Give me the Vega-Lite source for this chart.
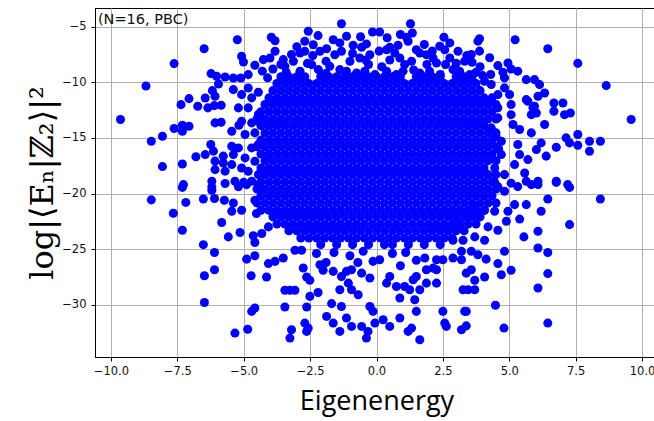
{
"$schema":"https://vega.github.io/schema/vega-lite/v6.json",
"width":563,"height":349,
"autosize":{"type":"none"},
"padding":{"left":95,"top":8,"right":-4,"bottom":64},
"background":"white",
"config":{"view":{"stroke":"black","strokeWidth":1},
"axis":{"grid":true,"gridColor":"#b0b0b0","gridWidth":1,"domainColor":"black","domainWidth":1,"tickColor":"black","tickSize":4,"labelFont":"DejaVu Sans","labelFontSize":11.5,"labelColor":"#111"}},
"layer":[
{"data":{"values":[
{"e":-3.6,"v":-9.5},{"e":-3.3,"v":-9.5},{"e":-3,"v":-9.5},{"e":-2.7,"v":-9.5},{"e":-2.1,"v":-9.5},{"e":-1.8,"v":-9.5},{"e":-1.5,"v":-9.5},{"e":-1.2,"v":-9.5},{"e":-0.9,"v":-9.5},{"e":-0.6,"v":-9.5},{"e":-0.3,"v":-9.5},{"e":0,"v":-9.5},{"e":0.3,"v":-9.5},{"e":0.6,"v":-9.5},{"e":0.9,"v":-9.5},{"e":1.5,"v":-9.5},{"e":1.8,"v":-9.5},{"e":2.1,"v":-9.5},{"e":2.4,"v":-9.5},{"e":3,"v":-9.5},{"e":3.3,"v":-9.5},{"e":3.6,"v":-9.5},
{"e":-3.75,"v":-10.1},{"e":-3.45,"v":-10.1},{"e":-3.15,"v":-10.1},{"e":-2.85,"v":-10.1},{"e":-2.55,"v":-10.1},{"e":-2.25,"v":-10.1},{"e":-1.95,"v":-10.1},{"e":-1.65,"v":-10.1},{"e":-1.35,"v":-10.1},{"e":-1.05,"v":-10.1},{"e":-0.75,"v":-10.1},{"e":-0.45,"v":-10.1},{"e":-0.15,"v":-10.1},{"e":0.15,"v":-10.1},{"e":0.45,"v":-10.1},{"e":0.75,"v":-10.1},{"e":1.05,"v":-10.1},{"e":1.35,"v":-10.1},{"e":1.65,"v":-10.1},{"e":1.95,"v":-10.1},{"e":2.25,"v":-10.1},{"e":2.55,"v":-10.1},{"e":2.85,"v":-10.1},{"e":3.15,"v":-10.1},{"e":3.45,"v":-10.1},{"e":3.75,"v":-10.1},
{"e":-3.9,"v":-10.75},{"e":-3.6,"v":-10.75},{"e":-3.3,"v":-10.75},{"e":-3,"v":-10.75},{"e":-2.7,"v":-10.75},{"e":-2.4,"v":-10.75},{"e":-2.1,"v":-10.75},{"e":-1.8,"v":-10.75},{"e":-1.5,"v":-10.75},{"e":-1.2,"v":-10.75},{"e":-0.9,"v":-10.75},{"e":-0.6,"v":-10.75},{"e":-0.3,"v":-10.75},{"e":0,"v":-10.75},{"e":0.3,"v":-10.75},{"e":0.6,"v":-10.75},{"e":0.9,"v":-10.75},{"e":1.2,"v":-10.75},{"e":1.5,"v":-10.75},{"e":1.8,"v":-10.75},{"e":2.1,"v":-10.75},{"e":2.4,"v":-10.75},{"e":2.7,"v":-10.75},{"e":3,"v":-10.75},{"e":3.3,"v":-10.75},{"e":3.6,"v":-10.75},{"e":3.9,"v":-10.75},
{"e":-4.05,"v":-11.4},{"e":-3.75,"v":-11.4},{"e":-3.45,"v":-11.4},{"e":-3.15,"v":-11.4},{"e":-2.85,"v":-11.4},{"e":-2.55,"v":-11.4},{"e":-2.25,"v":-11.4},{"e":-1.95,"v":-11.4},{"e":-1.65,"v":-11.4},{"e":-1.35,"v":-11.4},{"e":-1.05,"v":-11.4},{"e":-0.75,"v":-11.4},{"e":-0.45,"v":-11.4},{"e":-0.15,"v":-11.4},{"e":0.15,"v":-11.4},{"e":0.45,"v":-11.4},{"e":0.75,"v":-11.4},{"e":1.05,"v":-11.4},{"e":1.35,"v":-11.4},{"e":1.65,"v":-11.4},{"e":1.95,"v":-11.4},{"e":2.25,"v":-11.4},{"e":2.55,"v":-11.4},{"e":2.85,"v":-11.4},{"e":3.15,"v":-11.4},{"e":3.45,"v":-11.4},{"e":3.75,"v":-11.4},{"e":4.05,"v":-11.4},
{"e":-4.2,"v":-12},{"e":-3.9,"v":-12},{"e":-3.6,"v":-12},{"e":-3.3,"v":-12},{"e":-3,"v":-12},{"e":-2.7,"v":-12},{"e":-2.4,"v":-12},{"e":-2.1,"v":-12},{"e":-1.8,"v":-12},{"e":-1.5,"v":-12},{"e":-1.2,"v":-12},{"e":-0.9,"v":-12},{"e":-0.6,"v":-12},{"e":-0.3,"v":-12},{"e":0,"v":-12},{"e":0.3,"v":-12},{"e":0.6,"v":-12},{"e":0.9,"v":-12},{"e":1.2,"v":-12},{"e":1.5,"v":-12},{"e":1.8,"v":-12},{"e":2.1,"v":-12},{"e":2.4,"v":-12},{"e":2.7,"v":-12},{"e":3,"v":-12},{"e":3.3,"v":-12},{"e":3.6,"v":-12},{"e":3.9,"v":-12},{"e":4.2,"v":-12},
{"e":-4.05,"v":-12.65},{"e":-3.75,"v":-12.65},{"e":-3.45,"v":-12.65},{"e":-3.15,"v":-12.65},{"e":-2.85,"v":-12.65},{"e":-2.55,"v":-12.65},{"e":-2.25,"v":-12.65},{"e":-1.95,"v":-12.65},{"e":-1.65,"v":-12.65},{"e":-1.35,"v":-12.65},{"e":-1.05,"v":-12.65},{"e":-0.75,"v":-12.65},{"e":-0.45,"v":-12.65},{"e":-0.15,"v":-12.65},{"e":0.15,"v":-12.65},{"e":0.45,"v":-12.65},{"e":0.75,"v":-12.65},{"e":1.05,"v":-12.65},{"e":1.35,"v":-12.65},{"e":1.65,"v":-12.65},{"e":1.95,"v":-12.65},{"e":2.25,"v":-12.65},{"e":2.55,"v":-12.65},{"e":2.85,"v":-12.65},{"e":3.15,"v":-12.65},{"e":3.45,"v":-12.65},{"e":3.75,"v":-12.65},{"e":4.05,"v":-12.65},
{"e":-4.2,"v":-13.3},{"e":-3.9,"v":-13.3},{"e":-3.6,"v":-13.3},{"e":-3.3,"v":-13.3},{"e":-3,"v":-13.3},{"e":-2.7,"v":-13.3},{"e":-2.4,"v":-13.3},{"e":-2.1,"v":-13.3},{"e":-1.8,"v":-13.3},{"e":-1.5,"v":-13.3},{"e":-1.2,"v":-13.3},{"e":-0.9,"v":-13.3},{"e":-0.6,"v":-13.3},{"e":-0.3,"v":-13.3},{"e":0,"v":-13.3},{"e":0.3,"v":-13.3},{"e":0.6,"v":-13.3},{"e":0.9,"v":-13.3},{"e":1.2,"v":-13.3},{"e":1.5,"v":-13.3},{"e":1.8,"v":-13.3},{"e":2.1,"v":-13.3},{"e":2.4,"v":-13.3},{"e":2.7,"v":-13.3},{"e":3,"v":-13.3},{"e":3.3,"v":-13.3},{"e":3.6,"v":-13.3},{"e":3.9,"v":-13.3},{"e":4.2,"v":-13.3},
{"e":-4.05,"v":-13.9},{"e":-3.75,"v":-13.9},{"e":-3.45,"v":-13.9},{"e":-3.15,"v":-13.9},{"e":-2.85,"v":-13.9},{"e":-2.55,"v":-13.9},{"e":-2.25,"v":-13.9},{"e":-1.95,"v":-13.9},{"e":-1.65,"v":-13.9},{"e":-1.35,"v":-13.9},{"e":-1.05,"v":-13.9},{"e":-0.75,"v":-13.9},{"e":-0.45,"v":-13.9},{"e":-0.15,"v":-13.9},{"e":0.15,"v":-13.9},{"e":0.45,"v":-13.9},{"e":0.75,"v":-13.9},{"e":1.05,"v":-13.9},{"e":1.35,"v":-13.9},{"e":1.65,"v":-13.9},{"e":1.95,"v":-13.9},{"e":2.25,"v":-13.9},{"e":2.55,"v":-13.9},{"e":2.85,"v":-13.9},{"e":3.15,"v":-13.9},{"e":3.45,"v":-13.9},{"e":3.75,"v":-13.9},{"e":4.05,"v":-13.9},
{"e":-4.2,"v":-14.55},{"e":-3.9,"v":-14.55},{"e":-3.6,"v":-14.55},{"e":-3.3,"v":-14.55},{"e":-3,"v":-14.55},{"e":-2.7,"v":-14.55},{"e":-2.4,"v":-14.55},{"e":-2.1,"v":-14.55},{"e":-1.8,"v":-14.55},{"e":-1.5,"v":-14.55},{"e":-1.2,"v":-14.55},{"e":-0.9,"v":-14.55},{"e":-0.6,"v":-14.55},{"e":-0.3,"v":-14.55},{"e":0,"v":-14.55},{"e":0.3,"v":-14.55},{"e":0.6,"v":-14.55},{"e":0.9,"v":-14.55},{"e":1.2,"v":-14.55},{"e":1.5,"v":-14.55},{"e":1.8,"v":-14.55},{"e":2.1,"v":-14.55},{"e":2.4,"v":-14.55},{"e":2.7,"v":-14.55},{"e":3,"v":-14.55},{"e":3.3,"v":-14.55},{"e":3.6,"v":-14.55},{"e":3.9,"v":-14.55},{"e":4.2,"v":-14.55},
{"e":-4.05,"v":-15.2},{"e":-3.75,"v":-15.2},{"e":-3.45,"v":-15.2},{"e":-3.15,"v":-15.2},{"e":-2.85,"v":-15.2},{"e":-2.55,"v":-15.2},{"e":-2.25,"v":-15.2},{"e":-1.95,"v":-15.2},{"e":-1.65,"v":-15.2},{"e":-1.35,"v":-15.2},{"e":-1.05,"v":-15.2},{"e":-0.75,"v":-15.2},{"e":-0.45,"v":-15.2},{"e":-0.15,"v":-15.2},{"e":0.15,"v":-15.2},{"e":0.45,"v":-15.2},{"e":0.75,"v":-15.2},{"e":1.05,"v":-15.2},{"e":1.35,"v":-15.2},{"e":1.65,"v":-15.2},{"e":1.95,"v":-15.2},{"e":2.25,"v":-15.2},{"e":2.55,"v":-15.2},{"e":2.85,"v":-15.2},{"e":3.15,"v":-15.2},{"e":3.45,"v":-15.2},{"e":3.75,"v":-15.2},{"e":4.05,"v":-15.2},
{"e":-4.2,"v":-15.8},{"e":-3.9,"v":-15.8},{"e":-3.6,"v":-15.8},{"e":-3.3,"v":-15.8},{"e":-3,"v":-15.8},{"e":-2.7,"v":-15.8},{"e":-2.4,"v":-15.8},{"e":-2.1,"v":-15.8},{"e":-1.8,"v":-15.8},{"e":-1.5,"v":-15.8},{"e":-1.2,"v":-15.8},{"e":-0.9,"v":-15.8},{"e":-0.6,"v":-15.8},{"e":-0.3,"v":-15.8},{"e":0,"v":-15.8},{"e":0.3,"v":-15.8},{"e":0.6,"v":-15.8},{"e":0.9,"v":-15.8},{"e":1.2,"v":-15.8},{"e":1.5,"v":-15.8},{"e":1.8,"v":-15.8},{"e":2.1,"v":-15.8},{"e":2.4,"v":-15.8},{"e":2.7,"v":-15.8},{"e":3,"v":-15.8},{"e":3.3,"v":-15.8},{"e":3.6,"v":-15.8},{"e":3.9,"v":-15.8},{"e":4.2,"v":-15.8},
{"e":-4.05,"v":-16.45},{"e":-3.75,"v":-16.45},{"e":-3.45,"v":-16.45},{"e":-3.15,"v":-16.45},{"e":-2.85,"v":-16.45},{"e":-2.55,"v":-16.45},{"e":-2.25,"v":-16.45},{"e":-1.95,"v":-16.45},{"e":-1.65,"v":-16.45},{"e":-1.35,"v":-16.45},{"e":-1.05,"v":-16.45},{"e":-0.75,"v":-16.45},{"e":-0.45,"v":-16.45},{"e":-0.15,"v":-16.45},{"e":0.15,"v":-16.45},{"e":0.45,"v":-16.45},{"e":0.75,"v":-16.45},{"e":1.05,"v":-16.45},{"e":1.35,"v":-16.45},{"e":1.65,"v":-16.45},{"e":1.95,"v":-16.45},{"e":2.25,"v":-16.45},{"e":2.55,"v":-16.45},{"e":2.85,"v":-16.45},{"e":3.15,"v":-16.45},{"e":3.45,"v":-16.45},{"e":3.75,"v":-16.45},{"e":4.05,"v":-16.45},
{"e":-4.2,"v":-17.05},{"e":-3.9,"v":-17.05},{"e":-3.6,"v":-17.05},{"e":-3.3,"v":-17.05},{"e":-3,"v":-17.05},{"e":-2.7,"v":-17.05},{"e":-2.4,"v":-17.05},{"e":-2.1,"v":-17.05},{"e":-1.8,"v":-17.05},{"e":-1.5,"v":-17.05},{"e":-1.2,"v":-17.05},{"e":-0.9,"v":-17.05},{"e":-0.6,"v":-17.05},{"e":-0.3,"v":-17.05},{"e":0,"v":-17.05},{"e":0.3,"v":-17.05},{"e":0.6,"v":-17.05},{"e":0.9,"v":-17.05},{"e":1.2,"v":-17.05},{"e":1.5,"v":-17.05},{"e":1.8,"v":-17.05},{"e":2.1,"v":-17.05},{"e":2.4,"v":-17.05},{"e":2.7,"v":-17.05},{"e":3,"v":-17.05},{"e":3.3,"v":-17.05},{"e":3.6,"v":-17.05},{"e":3.9,"v":-17.05},{"e":4.2,"v":-17.05},
{"e":-4.05,"v":-17.7},{"e":-3.75,"v":-17.7},{"e":-3.45,"v":-17.7},{"e":-3.15,"v":-17.7},{"e":-2.85,"v":-17.7},{"e":-2.55,"v":-17.7},{"e":-2.25,"v":-17.7},{"e":-1.95,"v":-17.7},{"e":-1.65,"v":-17.7},{"e":-1.35,"v":-17.7},{"e":-1.05,"v":-17.7},{"e":-0.75,"v":-17.7},{"e":-0.45,"v":-17.7},{"e":-0.15,"v":-17.7},{"e":0.15,"v":-17.7},{"e":0.45,"v":-17.7},{"e":0.75,"v":-17.7},{"e":1.05,"v":-17.7},{"e":1.35,"v":-17.7},{"e":1.65,"v":-17.7},{"e":1.95,"v":-17.7},{"e":2.25,"v":-17.7},{"e":2.55,"v":-17.7},{"e":2.85,"v":-17.7},{"e":3.15,"v":-17.7},{"e":3.45,"v":-17.7},{"e":3.75,"v":-17.7},{"e":4.05,"v":-17.7},
{"e":-4.2,"v":-18.3},{"e":-3.9,"v":-18.3},{"e":-3.6,"v":-18.3},{"e":-3.3,"v":-18.3},{"e":-3,"v":-18.3},{"e":-2.7,"v":-18.3},{"e":-2.4,"v":-18.3},{"e":-2.1,"v":-18.3},{"e":-1.8,"v":-18.3},{"e":-1.5,"v":-18.3},{"e":-1.2,"v":-18.3},{"e":-0.9,"v":-18.3},{"e":-0.6,"v":-18.3},{"e":-0.3,"v":-18.3},{"e":0,"v":-18.3},{"e":0.3,"v":-18.3},{"e":0.6,"v":-18.3},{"e":0.9,"v":-18.3},{"e":1.2,"v":-18.3},{"e":1.5,"v":-18.3},{"e":1.8,"v":-18.3},{"e":2.1,"v":-18.3},{"e":2.4,"v":-18.3},{"e":2.7,"v":-18.3},{"e":3,"v":-18.3},{"e":3.3,"v":-18.3},{"e":3.6,"v":-18.3},{"e":3.9,"v":-18.3},{"e":4.2,"v":-18.3},
{"e":-4.05,"v":-18.95},{"e":-3.75,"v":-18.95},{"e":-3.45,"v":-18.95},{"e":-3.15,"v":-18.95},{"e":-2.85,"v":-18.95},{"e":-2.55,"v":-18.95},{"e":-2.25,"v":-18.95},{"e":-1.95,"v":-18.95},{"e":-1.65,"v":-18.95},{"e":-1.35,"v":-18.95},{"e":-1.05,"v":-18.95},{"e":-0.75,"v":-18.95},{"e":-0.45,"v":-18.95},{"e":-0.15,"v":-18.95},{"e":0.15,"v":-18.95},{"e":0.45,"v":-18.95},{"e":0.75,"v":-18.95},{"e":1.05,"v":-18.95},{"e":1.35,"v":-18.95},{"e":1.65,"v":-18.95},{"e":1.95,"v":-18.95},{"e":2.25,"v":-18.95},{"e":2.55,"v":-18.95},{"e":2.85,"v":-18.95},{"e":3.15,"v":-18.95},{"e":3.45,"v":-18.95},{"e":3.75,"v":-18.95},{"e":4.05,"v":-18.95},
{"e":-4.2,"v":-19.6},{"e":-3.9,"v":-19.6},{"e":-3.6,"v":-19.6},{"e":-3.3,"v":-19.6},{"e":-3,"v":-19.6},{"e":-2.7,"v":-19.6},{"e":-2.4,"v":-19.6},{"e":-2.1,"v":-19.6},{"e":-1.8,"v":-19.6},{"e":-1.5,"v":-19.6},{"e":-1.2,"v":-19.6},{"e":-0.9,"v":-19.6},{"e":-0.6,"v":-19.6},{"e":-0.3,"v":-19.6},{"e":0,"v":-19.6},{"e":0.3,"v":-19.6},{"e":0.6,"v":-19.6},{"e":0.9,"v":-19.6},{"e":1.2,"v":-19.6},{"e":1.5,"v":-19.6},{"e":1.8,"v":-19.6},{"e":2.1,"v":-19.6},{"e":2.4,"v":-19.6},{"e":2.7,"v":-19.6},{"e":3,"v":-19.6},{"e":3.3,"v":-19.6},{"e":3.6,"v":-19.6},{"e":3.9,"v":-19.6},{"e":4.2,"v":-19.6},
{"e":-4.05,"v":-20.2},{"e":-3.75,"v":-20.2},{"e":-3.45,"v":-20.2},{"e":-3.15,"v":-20.2},{"e":-2.85,"v":-20.2},{"e":-2.55,"v":-20.2},{"e":-2.25,"v":-20.2},{"e":-1.95,"v":-20.2},{"e":-1.65,"v":-20.2},{"e":-1.35,"v":-20.2},{"e":-1.05,"v":-20.2},{"e":-0.75,"v":-20.2},{"e":-0.45,"v":-20.2},{"e":-0.15,"v":-20.2},{"e":0.15,"v":-20.2},{"e":0.45,"v":-20.2},{"e":0.75,"v":-20.2},{"e":1.05,"v":-20.2},{"e":1.35,"v":-20.2},{"e":1.65,"v":-20.2},{"e":1.95,"v":-20.2},{"e":2.25,"v":-20.2},{"e":2.55,"v":-20.2},{"e":2.85,"v":-20.2},{"e":3.15,"v":-20.2},{"e":3.45,"v":-20.2},{"e":3.75,"v":-20.2},{"e":4.05,"v":-20.2},
{"e":-4.2,"v":-20.85},{"e":-3.9,"v":-20.85},{"e":-3.6,"v":-20.85},{"e":-3.3,"v":-20.85},{"e":-3,"v":-20.85},{"e":-2.7,"v":-20.85},{"e":-2.4,"v":-20.85},{"e":-2.1,"v":-20.85},{"e":-1.8,"v":-20.85},{"e":-1.5,"v":-20.85},{"e":-1.2,"v":-20.85},{"e":-0.9,"v":-20.85},{"e":-0.6,"v":-20.85},{"e":-0.3,"v":-20.85},{"e":0,"v":-20.85},{"e":0.3,"v":-20.85},{"e":0.6,"v":-20.85},{"e":0.9,"v":-20.85},{"e":1.2,"v":-20.85},{"e":1.5,"v":-20.85},{"e":1.8,"v":-20.85},{"e":2.1,"v":-20.85},{"e":2.4,"v":-20.85},{"e":2.7,"v":-20.85},{"e":3,"v":-20.85},{"e":3.3,"v":-20.85},{"e":3.6,"v":-20.85},{"e":3.9,"v":-20.85},{"e":4.2,"v":-20.85},
{"e":-4.05,"v":-21.5},{"e":-3.75,"v":-21.5},{"e":-3.45,"v":-21.5},{"e":-3.15,"v":-21.5},{"e":-2.85,"v":-21.5},{"e":-2.55,"v":-21.5},{"e":-2.25,"v":-21.5},{"e":-1.95,"v":-21.5},{"e":-1.65,"v":-21.5},{"e":-1.35,"v":-21.5},{"e":-1.05,"v":-21.5},{"e":-0.75,"v":-21.5},{"e":-0.45,"v":-21.5},{"e":-0.15,"v":-21.5},{"e":0.15,"v":-21.5},{"e":0.45,"v":-21.5},{"e":0.75,"v":-21.5},{"e":1.05,"v":-21.5},{"e":1.35,"v":-21.5},{"e":1.65,"v":-21.5},{"e":1.95,"v":-21.5},{"e":2.25,"v":-21.5},{"e":2.55,"v":-21.5},{"e":2.85,"v":-21.5},{"e":3.15,"v":-21.5},{"e":3.45,"v":-21.5},{"e":3.75,"v":-21.5},{"e":4.05,"v":-21.5},
{"e":-3.9,"v":-22.1},{"e":-3.6,"v":-22.1},{"e":-3.3,"v":-22.1},{"e":-3,"v":-22.1},{"e":-2.7,"v":-22.1},{"e":-2.4,"v":-22.1},{"e":-2.1,"v":-22.1},{"e":-1.8,"v":-22.1},{"e":-1.5,"v":-22.1},{"e":-1.2,"v":-22.1},{"e":-0.9,"v":-22.1},{"e":-0.6,"v":-22.1},{"e":-0.3,"v":-22.1},{"e":0,"v":-22.1},{"e":0.3,"v":-22.1},{"e":0.6,"v":-22.1},{"e":0.9,"v":-22.1},{"e":1.2,"v":-22.1},{"e":1.5,"v":-22.1},{"e":1.8,"v":-22.1},{"e":2.1,"v":-22.1},{"e":2.4,"v":-22.1},{"e":2.7,"v":-22.1},{"e":3,"v":-22.1},{"e":3.3,"v":-22.1},{"e":3.6,"v":-22.1},{"e":3.9,"v":-22.1},
{"e":-3.75,"v":-22.75},{"e":-3.45,"v":-22.75},{"e":-3.15,"v":-22.75},{"e":-2.85,"v":-22.75},{"e":-2.55,"v":-22.75},{"e":-2.25,"v":-22.75},{"e":-1.95,"v":-22.75},{"e":-1.65,"v":-22.75},{"e":-1.35,"v":-22.75},{"e":-1.05,"v":-22.75},{"e":-0.75,"v":-22.75},{"e":-0.45,"v":-22.75},{"e":-0.15,"v":-22.75},{"e":0.15,"v":-22.75},{"e":0.45,"v":-22.75},{"e":0.75,"v":-22.75},{"e":1.05,"v":-22.75},{"e":1.35,"v":-22.75},{"e":1.65,"v":-22.75},{"e":1.95,"v":-22.75},{"e":2.25,"v":-22.75},{"e":2.55,"v":-22.75},{"e":2.85,"v":-22.75},{"e":3.15,"v":-22.75},{"e":3.45,"v":-22.75},{"e":3.75,"v":-22.75},
{"e":-3.3,"v":-23.35},{"e":-3,"v":-23.35},{"e":-2.7,"v":-23.35},{"e":-2.4,"v":-23.35},{"e":-2.1,"v":-23.35},{"e":-1.8,"v":-23.35},{"e":-1.5,"v":-23.35},{"e":-1.2,"v":-23.35},{"e":-0.9,"v":-23.35},{"e":-0.6,"v":-23.35},{"e":-0.3,"v":-23.35},{"e":0,"v":-23.35},{"e":0.3,"v":-23.35},{"e":0.6,"v":-23.35},{"e":0.9,"v":-23.35},{"e":1.2,"v":-23.35},{"e":1.5,"v":-23.35},{"e":1.8,"v":-23.35},{"e":2.1,"v":-23.35},{"e":2.4,"v":-23.35},{"e":2.7,"v":-23.35},{"e":3,"v":-23.35},{"e":3.3,"v":-23.35},
{"e":-2.85,"v":-24},{"e":-2.55,"v":-24},{"e":-2.25,"v":-24},{"e":-1.95,"v":-24},{"e":-1.65,"v":-24},{"e":-1.35,"v":-24},{"e":-1.05,"v":-24},{"e":-0.75,"v":-24},{"e":-0.45,"v":-24},{"e":-0.15,"v":-24},{"e":0.15,"v":-24},{"e":0.45,"v":-24},{"e":0.75,"v":-24},{"e":1.05,"v":-24},{"e":1.35,"v":-24},{"e":1.65,"v":-24},{"e":1.95,"v":-24},{"e":2.25,"v":-24},{"e":2.55,"v":-24},{"e":2.85,"v":-24},
{"e":-2.1,"v":-24.6},{"e":-1.5,"v":-24.6},{"e":-0.9,"v":-24.6},{"e":-0.3,"v":-24.6},{"e":0.3,"v":-24.6},{"e":0.6,"v":-24.6},{"e":1.2,"v":-24.6},{"e":1.8,"v":-24.6},{"e":2.4,"v":-24.6},
{"e":-4.35,"v":-12.65},{"e":-4.5,"v":-13.3},{"e":-4.35,"v":-13.9},{"e":-4.35,"v":-15.2},{"e":-4.5,"v":-15.8},{"e":-4.35,"v":-16.45},{"e":-4.35,"v":-17.7},{"e":-4.35,"v":-18.95},{"e":-4.5,"v":-19.6},{"e":-4.35,"v":-20.2},{"e":-4.5,"v":-20.85},{"e":-4.35,"v":-21.5},
{"e":4.35,"v":-11.4},{"e":4.5,"v":-12},{"e":4.35,"v":-12.65},{"e":4.5,"v":-13.3},{"e":4.5,"v":-14.55},{"e":4.35,"v":-15.2},{"e":4.5,"v":-15.8},{"e":4.35,"v":-16.45},{"e":4.5,"v":-17.05},{"e":4.5,"v":-18.3},{"e":4.35,"v":-18.95},{"e":4.5,"v":-19.6},{"e":4.35,"v":-20.2},{"e":4.5,"v":-20.85},
{"e":-5.24,"v":-6.17},{"e":-6.49,"v":-6.98},{"e":-7.62,"v":-8.32},{"e":-8.68,"v":-10.33},{"e":-9.64,"v":-13.35},{"e":-3.96,"v":-5.95},{"e":-3.82,"v":-6.26},{"e":-5.08,"v":-7.66},{"e":-5.01,"v":-8.17},{"e":-4.58,"v":-8.47},{"e":-4.26,"v":-7.96},{"e":-4.01,"v":-7.81},{"e":-3.82,"v":-7.21},{"e":-4.83,"v":-9.31},{"e":-6.23,"v":-9.22},{"e":-6.02,"v":-9.46},{"e":-5.7,"v":-9.52},{"e":-5.39,"v":-9.61},{"e":-5.11,"v":-9.61},{"e":-5.95,"v":-10.15},{"e":-5.39,"v":-10.66},{"e":-5.08,"v":-11.11},{"e":-4.83,"v":-10.51},{"e":-6.18,"v":-10.75},{"e":-6.08,"v":-11.25},{"e":-7.06,"v":-11.47},{"e":-7.36,"v":-12.01},{"e":-6.73,"v":-12.15},{"e":-6.45,"v":-11.41},{"e":-6.35,"v":-12.3},{"e":-6.11,"v":-12.1},{"e":-5.85,"v":-12.06},{"e":-7.06,"v":-13.95},{"e":-7.31,"v":-13.86},{"e":-7.31,"v":-14.4},{"e":-7.62,"v":-14.16},{"e":-6.08,"v":-13.65},{"e":-5.85,"v":-13.59},{"e":-5.45,"v":-14.4},{"e":-5.18,"v":-13.86},{"e":-8.06,"v":-14.85},{"e":-8.48,"v":-15.3},{"e":-6.24,"v":-15.6},{"e":-6.14,"v":-16.19},{"e":-5.77,"v":-16.64},{"e":-5.45,"v":-15.75},{"e":-5.39,"v":-16.5},{"e":-6.8,"v":-16.7},{"e":-6.45,"v":-16.5},{"e":-6.08,"v":-17.09},{"e":-5.77,"v":-17.25},{"e":-8.06,"v":-17.58},{"e":-7.31,"v":-17.34},{"e":-6.08,"v":-17.85},{"e":-5.7,"v":-17.99},{"e":-5.45,"v":-17.4},{"e":-5.08,"v":-17.7},{"e":-7.27,"v":-19.2},{"e":-6.2,"v":-18.9},{"e":-5.33,"v":-18.9},
{"e":-4.7,"v":-11.4},{"e":-4.45,"v":-10.9},{"e":-5.2,"v":-12.3},{"e":-4.83,"v":-12.3},{"e":-4.45,"v":-12.9},{"e":-5.08,"v":-13.5},{"e":-4.7,"v":-13.65},{"e":-4.45,"v":-13.5},{"e":-4.95,"v":-14.7},{"e":-4.58,"v":-14.55},{"e":-5.2,"v":-15.9},{"e":-4.7,"v":-15.9},{"e":-4.45,"v":-15.6},{"e":-4.95,"v":-16.8},{"e":-4.58,"v":-17.1},{"e":-4.83,"v":-18},{"e":-4.45,"v":-18.3},{"e":-4.7,"v":-18.9},{"e":-4.45,"v":-19.2},{"e":-5,"v":-19},{"e":-4.3,"v":-9},{"e":-3.9,"v":-8.8},{"e":-3.6,"v":-8.4},{"e":-4.1,"v":-9.6},{"e":-3.45,"v":-8.56},
{"e":-1.32,"v":-4.73},{"e":1.28,"v":-4.73},{"e":-2.57,"v":-5.41},{"e":-0.15,"v":-5.48},{"e":0.12,"v":-5.48},{"e":-1.13,"v":-5.86},{"e":1.35,"v":-5.57},{"e":1.13,"v":-5.95},{"e":2.54,"v":-5.95},{"e":-2.7,"v":-6.31},{"e":-2.38,"v":-6.62},{"e":-1.63,"v":-6.17},{"e":-1.38,"v":-6.46},{"e":-0.88,"v":-6.67},{"e":-0.56,"v":-6.85},{"e":-0.38,"v":-6.55},{"e":0.5,"v":-6.85},{"e":0.81,"v":-6.67},{"e":1.19,"v":-6.31},{"e":1.5,"v":-7.07},{"e":2.76,"v":-6.46},{"e":3.07,"v":-7.21},{"e":-3.51,"v":-7.96},{"e":-3.13,"v":-8.11},{"e":-2.88,"v":-7.36},{"e":-2.7,"v":-7.21},{"e":-2.13,"v":-7.21},{"e":-1.88,"v":-6.98},{"e":-1.57,"v":-7.52},{"e":-1.32,"v":-7.21},{"e":-1,"v":-8.11},{"e":-0.63,"v":-7.81},{"e":-0.25,"v":-7.52},{"e":0.38,"v":-7.07},{"e":0.69,"v":-7.36},{"e":0.88,"v":-7.81},{"e":1.06,"v":-8.41},{"e":1.32,"v":-8.11},{"e":1.63,"v":-7.36},{"e":1.88,"v":-7.52},{"e":2.13,"v":-7.81},{"e":2.38,"v":-6.76},{"e":2.57,"v":-7.07},{"e":2.88,"v":-8.86},{"e":3.32,"v":-8.11},{"e":-2.88,"v":-9.01},{"e":-2.44,"v":-8.41},{"e":-2.19,"v":-8.86},{"e":-1.76,"v":-8.56},{"e":-1.38,"v":-8.86},{"e":-1.13,"v":-9.01},{"e":-0.75,"v":-9.16},{"e":-0.44,"v":-9.01},{"e":-0.06,"v":-9.31},{"e":0.38,"v":-9.01},{"e":0.75,"v":-9.31},{"e":1.63,"v":-9.16},{"e":2,"v":-9.01},{"e":2.26,"v":-8.26},{"e":2.76,"v":-7.81},{"e":3.13,"v":-9.01},{"e":3.51,"v":-9.31},{"e":3.26,"v":-9.76},
{"e":-3.4,"v":-9.1},{"e":-1.9,"v":-9.2},{"e":-0.3,"v":-8.4},{"e":0.5,"v":-8},{"e":1,"v":-9},{"e":2.4,"v":-9.3},{"e":2.6,"v":-8.4},{"e":-0.9,"v":-7.4},{"e":0.1,"v":-7.2},{"e":-2.4,"v":-7.6},{"e":3,"v":-8.3},
{"e":-3,"v":-6.8},{"e":-2.2,"v":-5.8},{"e":-0.6,"v":-5.9},{"e":0.4,"v":-6},{"e":0.9,"v":-5.7},{"e":1.8,"v":-6.6},{"e":2.1,"v":-7.2},{"e":-1.9,"v":-8.1},{"e":-0.4,"v":-8},{"e":0.2,"v":-8.6},{"e":1.4,"v":-8.9},{"e":1.9,"v":-8.4},{"e":3.4,"v":-7.6},{"e":-3.2,"v":-7.5},{"e":-2.6,"v":-8.3},
{"e":3.88,"v":-6.08},{"e":3.82,"v":-6.3},{"e":5.22,"v":-6.17},{"e":6.45,"v":-6.98},{"e":7.58,"v":-8.3},{"e":8.65,"v":-10.3},{"e":9.59,"v":-13.35},{"e":3.57,"v":-7.5},{"e":3.88,"v":-7.2},{"e":4.26,"v":-7.8},{"e":4.57,"v":-8.5},{"e":4.95,"v":-8.26},{"e":5.07,"v":-8.8},{"e":5.32,"v":-9},{"e":4.76,"v":-9.1},{"e":4.82,"v":-9.6},{"e":5.64,"v":-9.76},{"e":5.95,"v":-9.76},{"e":6.14,"v":-10.21},{"e":6.33,"v":-10.96},{"e":6.08,"v":-11.26},{"e":5.64,"v":-11.56},{"e":5.95,"v":-12.15},{"e":5.83,"v":-12.91},{"e":6.33,"v":-13.8},{"e":6.68,"v":-11.86},{"e":7.02,"v":-11.86},{"e":6.68,"v":-12.6},{"e":7.08,"v":-12.91},{"e":7.3,"v":-12.76},{"e":5.14,"v":-13.8},{"e":5.39,"v":-14.25},{"e":5.83,"v":-14.55},{"e":6.2,"v":-15.45},{"e":6.02,"v":-16.05},{"e":6.39,"v":-16.64},{"e":6.77,"v":-15.84},{"e":7.14,"v":-15},{"e":7.27,"v":-15.45},{"e":7.58,"v":-14.7},{"e":7.58,"v":-15.66},{"e":8.02,"v":-15.3},{"e":8.02,"v":-16.2},{"e":8.43,"v":-15.3},{"e":5.32,"v":-15.6},{"e":5.39,"v":-16.5},{"e":5.7,"v":-16.95},{"e":5.2,"v":-17.4},{"e":5.58,"v":-18.15},{"e":6.08,"v":-18.9},{"e":6.77,"v":-18.9},{"e":7.2,"v":-19.2},{"e":5.07,"v":-12},{"e":5.07,"v":-12.91},{"e":5.7,"v":-11.71},{"e":5.89,"v":-12.3},{"e":6.02,"v":-12.76},{"e":4.57,"v":-11.11},{"e":4.57,"v":-12.3},{"e":4.57,"v":-13.2},{"e":4.32,"v":-14.1},{"e":4.7,"v":-15.3},{"e":4.7,"v":-16.5},{"e":4.45,"v":-17.7},{"e":4.82,"v":-18.3},{"e":4.32,"v":-10.2},{"e":4.82,"v":-10.5},{"e":5.01,"v":-11.1},{"e":4.07,"v":-9.9},{"e":3.6,"v":-8.2},{"e":3.9,"v":-8.6},{"e":4,"v":-9.4},{"e":4.3,"v":-9.3},{"e":3.75,"v":-9.1},{"e":4.5,"v":-14.9},{"e":4.6,"v":-16},{"e":4.45,"v":-19},
{"e":-7.31,"v":-19.45},{"e":-8.48,"v":-20.57},{"e":-7.18,"v":-20.8},{"e":-7.65,"v":-21.77},{"e":-7.31,"v":-23.3},{"e":-6.52,"v":-20.5},{"e":-6.1,"v":-20.45},{"e":-5.73,"v":-20.6},{"e":-5.39,"v":-20.85},{"e":-5.08,"v":-21.5},{"e":-5.45,"v":-21.6},{"e":-5.83,"v":-22.6},{"e":-5.58,"v":-23.9},{"e":-5.14,"v":-23.5},{"e":-6.52,"v":-24.6},{"e":-6.1,"v":-25.3},{"e":-6.1,"v":-26.86},{"e":-6.48,"v":-27.4},{"e":-6.48,"v":-29.8},{"e":-4.89,"v":-25.9},{"e":-4.58,"v":-25.6},{"e":-4.72,"v":-27.4},{"e":-4.14,"v":-27.5},{"e":-4.7,"v":-30.6},{"e":-4.58,"v":-30.3},{"e":-4.85,"v":-32.2},{"e":-5.33,"v":-32.55},{"e":-6.2,"v":-19.4},{"e":-5.7,"v":-19.1},{"e":-5.2,"v":-19.4},{"e":-4.89,"v":-19.2},{"e":-6.2,"v":-19.7},{"e":-4.58,"v":-20.6},{"e":-4.52,"v":-21.8},{"e":-4.64,"v":-23.8},{"e":-4.58,"v":-24.4},{"e":-4.07,"v":-23},{"e":-4.32,"v":-23.6},{"e":-4.07,"v":-26.3},{"e":-3.82,"v":-26.1},{"e":-3.51,"v":-25.8},
{"e":-3.07,"v":-25.1},{"e":-2.82,"v":-25.1},{"e":-2.76,"v":-26.7},{"e":-2.63,"v":-27.5},{"e":-2.51,"v":-27.8},{"e":-2.26,"v":-25.4},{"e":-2.13,"v":-26.4},{"e":-2.01,"v":-26.9},{"e":-3.45,"v":-28.7},{"e":-3.26,"v":-28.7},{"e":-3.07,"v":-28.7},{"e":-3.45,"v":-30.2},{"e":-2.63,"v":-30.2},{"e":-2.51,"v":-29.25},{"e":-2.2,"v":-28.9},{"e":-2.7,"v":-31.65},{"e":-2.57,"v":-32.1},{"e":-2.63,"v":-32.4},{"e":-3.2,"v":-32.25},{"e":-3.26,"v":-33},{"e":-1.69,"v":-29.9},{"e":-1.88,"v":-31.05},{"e":-1.63,"v":-31.65},{"e":-1.38,"v":-32.4},{"e":-1.63,"v":-27},{"e":-1.32,"v":-27.46},{"e":-1.13,"v":-27},{"e":-0.94,"v":-26.86},{"e":-1.38,"v":-28.66},{"e":-1.06,"v":-28.06},{"e":-0.94,"v":-28.66},{"e":-1.32,"v":-30.16},{"e":-1.13,"v":-31.2},{"e":-0.94,"v":-31.95},{"e":-0.69,"v":-29.1},{"e":-0.56,"v":-31.95},{"e":-0.38,"v":-33},{"e":-0.32,"v":-32.4},{"e":-0.25,"v":-30.16},{"e":-0.13,"v":-30.6},{"e":-0.06,"v":-31.65},{"e":0.25,"v":-31.35},{"e":0.5,"v":-31.95},{"e":-0.56,"v":-27.16},{"e":-0.25,"v":-27.6},{"e":-0.13,"v":-26.1},{"e":0.12,"v":-25.96},{"e":0.38,"v":-28.06},{"e":0.5,"v":-27.46},{"e":0.75,"v":-28.36},{"e":0.88,"v":-29.4},{"e":1.06,"v":-28.36},{"e":1.25,"v":-28.66},{"e":1.38,"v":-27.76},{"e":1.5,"v":-27.46},{"e":0.88,"v":-31.2},{"e":1.19,"v":-32.4},{"e":1.32,"v":-32.1},{"e":1.63,"v":-33.15},{"e":1.5,"v":-30.6},{"e":1.44,"v":-29.55},{"e":1.63,"v":-28.66},{"e":1.88,"v":-26.86},{"e":2.13,"v":-26.71},{"e":2.26,"v":-26.86},{"e":1.88,"v":-28.06},{"e":2.26,"v":-28.06},{"e":1.82,"v":-25.8},{"e":2.26,"v":-25.96},{"e":2.5,"v":-25.96},{"e":2.88,"v":-25.8},{"e":3.2,"v":-25.96},{"e":2.5,"v":-30.6},{"e":2.57,"v":-31.65},{"e":2.63,"v":-31.95},{"e":3.2,"v":-32.25},{"e":3.32,"v":-30.6},{"e":2.88,"v":-24.2},{"e":3.26,"v":-24.2},{"e":3.2,"v":-25.2},{"e":3,"v":-22.4},{"e":3.38,"v":-22.1},{"e":3.26,"v":-28.66},{"e":3.38,"v":-27.16},
{"e":-1.6,"v":-25.3},{"e":-1,"v":-25.6},{"e":-0.5,"v":-25.2},{"e":0.6,"v":-25.4},{"e":1.1,"v":-25.3},{"e":1.5,"v":-26},{"e":-1.9,"v":-26.2},{"e":0.9,"v":-26.5},{"e":-0.7,"v":-26.2},
{"e":6.77,"v":-19},{"e":7.27,"v":-19.45},{"e":8.43,"v":-20.5},{"e":7.27,"v":-22.8},{"e":6.45,"v":-20.5},{"e":6.2,"v":-21.6},{"e":6.08,"v":-23.4},{"e":5.55,"v":-23.9},{"e":5.39,"v":-22.3},{"e":6.08,"v":-24.9},{"e":6.45,"v":-25.3},{"e":6.45,"v":-27.2},{"e":6.08,"v":-28.5},{"e":6.45,"v":-31.65},{"e":4.8,"v":-32.1},{"e":4.48,"v":-30.05},{"e":5.07,"v":-26.9},{"e":4.7,"v":-27.3},{"e":4.07,"v":-27.5},{"e":3.7,"v":-28.66},{"e":4.82,"v":-25.2},{"e":4.57,"v":-26.3},{"e":4.13,"v":-25.9},{"e":3.38,"v":-30.6},{"e":3.38,"v":-31.9},{"e":5.2,"v":-21},{"e":5.64,"v":-21},{"e":4.95,"v":-21.6},{"e":4.89,"v":-22.5},{"e":4.57,"v":-23.3},{"e":4.57,"v":-19.38},{"e":4.82,"v":-19.8},{"e":5.07,"v":-19.07},{"e":5.32,"v":-19.38},{"e":5.83,"v":-19.2},{"e":6.08,"v":-19.2},{"e":5.64,"v":-18.9},{"e":3.7,"v":-21.2},{"e":4.07,"v":-21.5},{"e":4.45,"v":-21.6},{"e":3.88,"v":-22.1},{"e":4.2,"v":-23},{"e":3.7,"v":-23.9},{"e":4.07,"v":-24.2},{"e":3.57,"v":-25.2},{"e":3.82,"v":-25.5},{"e":3.57,"v":-26.86},{"e":3.7,"v":-27.8},{"e":3.45,"v":-28.66}
]},
"mark":{"type":"circle","size":82,"color":"#0000ff","opacity":1},
"encoding":{
"x":{"field":"e","type":"quantitative","scale":{"domain":[-10.6,10.6],"nice":false,"zero":false},
"axis":{"values":[-10,-7.5,-5,-2.5,0,2.5,5,7.5,10],"format":".1f","labelPadding":4,"title":"Eigenenergy","titleFont":"Open Sans","titleFontSize":27,"titleFontWeight":"normal","titleColor":"black","titlePadding":12}},
"y":{"field":"v","type":"quantitative","scale":{"domain":[-34.7,-3.32],"nice":false,"zero":false},
"axis":{"values":[-30,-25,-20,-15,-10,-5],"format":"d","labelPadding":5,"title":"log|⟨Eₙ|ℤ₂⟩|²","titleFont":"DejaVu Serif","titleFontSize":32,"titleFontWeight":"normal","titleColor":"black","titlePadding":2}}
}},
{"data":{"values":[{"label":"(N=16, PBC)"}]},
"mark":{"type":"text","align":"left","baseline":"alphabetic","font":"DejaVu Sans","fontSize":14.5,"color":"#111"},
"encoding":{"text":{"field":"label"},"x":{"datum":-10.49,"type":"quantitative"},"y":{"datum":-4.76,"type":"quantitative"}}}
]
}
